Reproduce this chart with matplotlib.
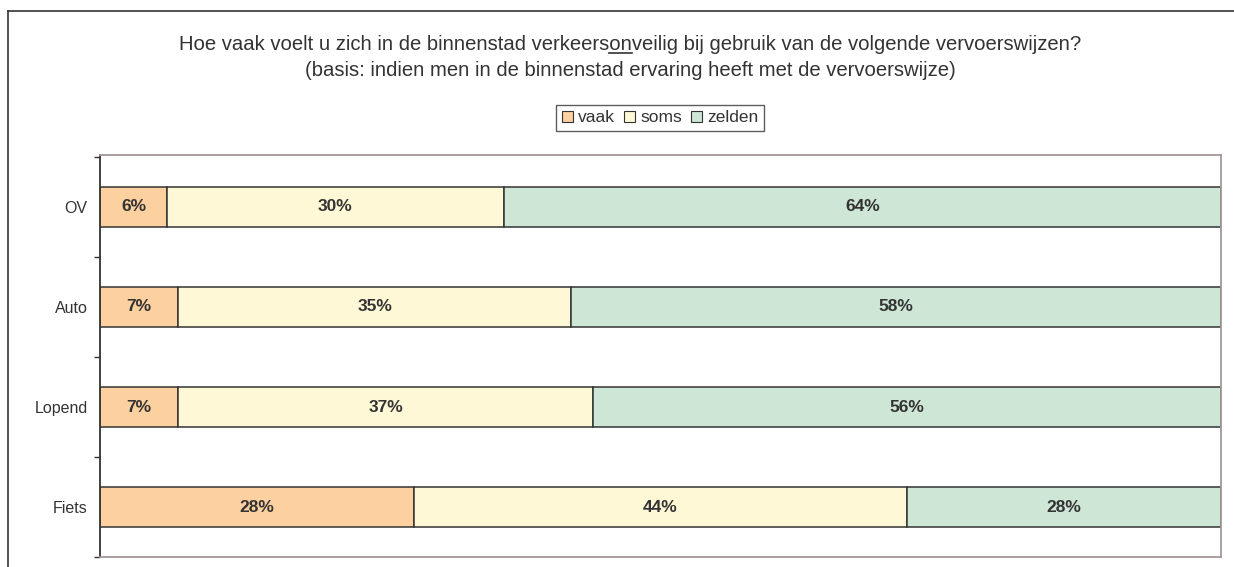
import matplotlib.pyplot as plt
import numpy as np
from matplotlib.lines import Line2D
from matplotlib.patches import Patch

plt.rcParams["font.family"] = ["Liberation Sans", "DejaVu Sans"]
plt.rcParams["text.color"] = '#333333'

categories = ['OV', 'Auto', 'Lopend', 'Fiets']
series = ['vaak', 'soms', 'zelden']
vaak = [6, 7, 7, 28]
soms = [30, 35, 37, 44]
zelden = [64, 58, 56, 28]

COLORS = ['#FCD09F', '#FFF8D6', '#CDE6D5']
TXT = '#333333'
GRAY = '#A09896'

fig = plt.figure(figsize=(12.34, 5.67), dpi=100)
ax = fig.add_axes([100 / 1234, 10 / 567, 1121 / 1234, 402 / 567])

pos = np.arange(len(categories))
left = np.zeros(len(categories))
handles = []
for vals, name, col in zip([vaak, soms, zelden], series, COLORS):
    bars = ax.barh(pos, vals, height=0.4, left=left, color=col,
                   edgecolor='#333333', linewidth=1.1)
    for b, v in zip(bars, vals):
        ax.text(b.get_x() + b.get_width() / 2, b.get_y() + b.get_height() / 2,
                f'{v}%', ha='center', va='center', fontsize=12.5,
                fontweight='bold', color=TXT)
    left += vals
    handles.append(Patch(facecolor=col, edgecolor='#333333', linewidth=0.8, label=name))

ax.set_xlim(0, 100)
ax.set_ylim(3.48, -0.52)
ax.set_xticks([])
ax.set_yticks(pos)
ax.set_yticklabels(categories, fontsize=11.5, color=TXT)
ax.set_yticks(np.arange(-0.5, 4, 1), minor=True)
ax.tick_params(axis='y', which='major', length=0, pad=9)
ax.tick_params(axis='y', which='minor', length=4, width=1, color='#333333')
minor = ax.yaxis.get_minor_ticks()
for tk in (minor[0], minor[-1]):
    tk.tick1line.set_color(GRAY)

for s in ['top', 'right', 'bottom']:
    ax.spines[s].set_color(GRAY)
    ax.spines[s].set_linewidth(1.3)
ax.spines['left'].set_color('#333333')
ax.spines['left'].set_linewidth(1.3)

# outer chart frame (only top and left edges visible)
fig.add_artist(Line2D([8 / 1234, 1.05], [1 - 11 / 567, 1 - 11 / 567],
                      color='#333333', linewidth=1.2))
fig.add_artist(Line2D([8 / 1234, 8 / 1234], [-0.05, 1 - 11 / 567],
                      color='#333333', linewidth=1.2))

# title with underlined "on"
pre = 'Hoe vaak voelt u zich in de binnenstad verkeers'
mid = 'on'
line1 = pre + mid + 'veilig bij gebruik van de volgende vervoerswijzen?'
t1 = fig.text(630 / 1234, 1 - 44 / 567, line1, ha='center', va='center', fontsize=14.6, color=TXT)
fig.text(630 / 1234, 1 - 70 / 567, '(basis: indien men in de binnenstad ervaring heeft met de vervoerswijze)',
         ha='center', va='center', fontsize=14.6, color=TXT)

fig.canvas.draw()
r = fig.canvas.get_renderer()
bb = t1.get_window_extent(r)
w_pre, _, _ = r.get_text_width_height_descent(pre, t1.get_fontproperties(), ismath=False)
w_mid, _, _ = r.get_text_width_height_descent(mid, t1.get_fontproperties(), ismath=False)
x0 = bb.x0 + w_pre
yl = bb.y0 + 1
fig.add_artist(Line2D([x0 / 1234, (x0 + w_mid) / 1234], [yl / 567, yl / 567],
                      color=TXT, linewidth=1.2))

leg = fig.legend(handles=handles, loc='center', bbox_to_anchor=(660 / 1234, 1 - 118 / 567),
                 ncol=3, fontsize=12.5, frameon=True, fancybox=False, shadow=False,
                 handlelength=0.65, handleheight=0.65, handletextpad=0.3,
                 columnspacing=0.5, borderpad=0.3)
leg.get_frame().set_edgecolor('#333333')
leg.get_frame().set_linewidth(1.0)

fig.savefig('out.png', dpi=100, facecolor='white')
